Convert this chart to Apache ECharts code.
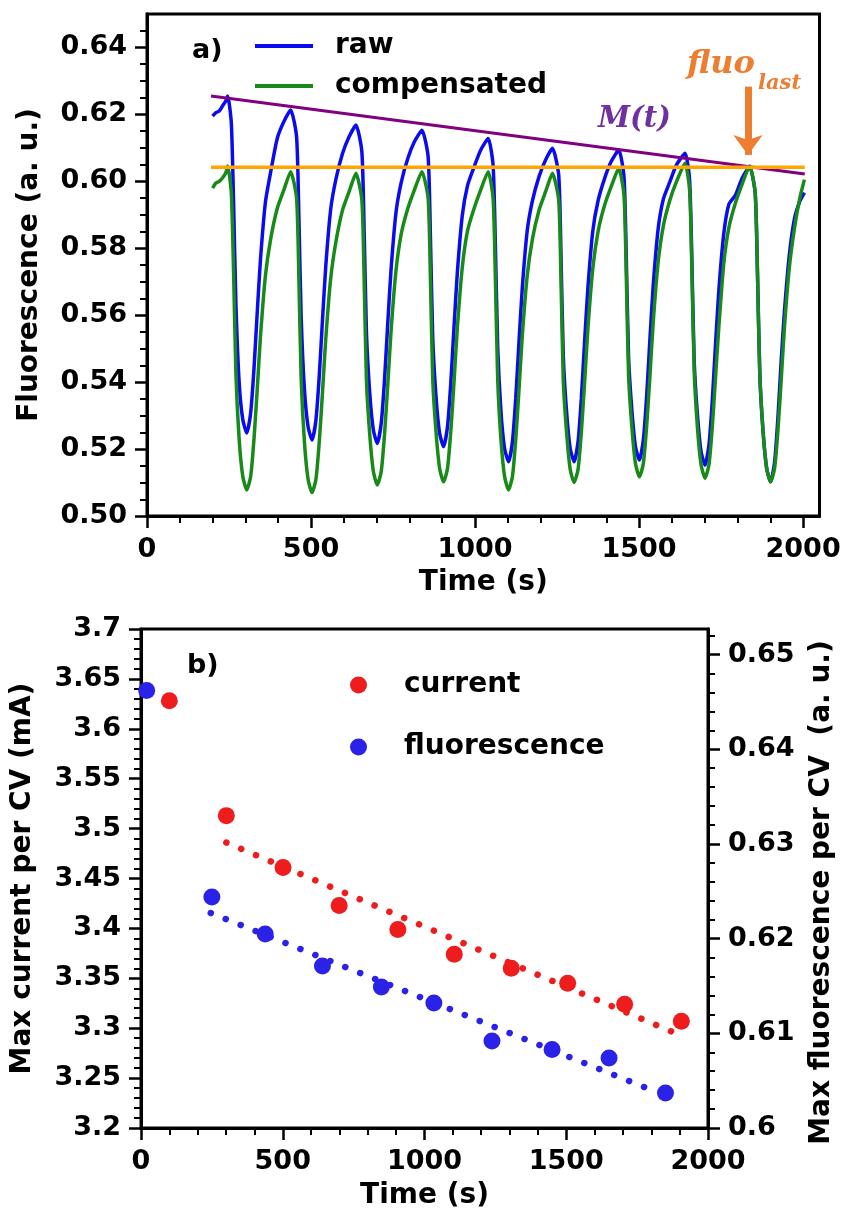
<!DOCTYPE html>
<html>
<head>
<meta charset="utf-8">
<script src="https://cdn.jsdelivr.net/npm/echarts@6/dist/echarts.min.js"></script>
<style>html,body{margin:0;padding:0;background:#fff}#c{width:844px;height:1220px}</style>
</head>
<body>
<div id="c"></div>
<script>
// ---------- panel a) data ----------
const tTop = [200,210,220,230,240,
246,257,264,271,281,292,304,316,326,336,346,361,377,397,417,
438,456,463,470,480,491,503,515,525,535,545,560,576,596,616,
637,655,662,669,679,690,702,714,724,734,744,759,775,795,815,
838,857,864,871,881,892,904,916,926,936,946,961,977,997,1017,
1040,1055,1062,1069,1079,1090,1102,1114,1124,1134,1144,1159,1175,1195,1215,
1236,1255,1262,1269,1279,1290,1302,1314,1324,1334,1344,1359,1375,1395,1415,
1438,1454,1461,1468,1478,1489,1501,1513,1523,1533,1543,1558,1574,1594,1614,
1640,1654,1661,1668,1678,1689,1701,1713,1723,1733,1743,1758,1774,1794,1814,
1837,1854,1861,1868,1878,1889,1901,1913,1923,1933,1943,1958,1974,1990,2004];
const rawVals = [0.6195,0.6205,0.6210,0.6225,0.6240,
0.6255,0.6175,0.5935,0.5635,0.5398,0.5288,0.5248,0.5308,0.5438,0.5608,0.5768,0.5938,0.6028,0.6128,0.6178,
0.6213,0.6133,0.5893,0.5593,0.5377,0.5267,0.5227,0.5287,0.5417,0.5587,0.5747,0.5917,0.6007,0.6083,0.6133,
0.6168,0.6088,0.5848,0.5548,0.5367,0.5257,0.5217,0.5277,0.5407,0.5577,0.5737,0.5907,0.5997,0.6068,0.6118,
0.6153,0.6073,0.5833,0.5533,0.5357,0.5247,0.5207,0.5267,0.5397,0.5567,0.5727,0.5897,0.5987,0.6043,0.6093,
0.6128,0.6048,0.5808,0.5508,0.5312,0.5202,0.5162,0.5222,0.5352,0.5522,0.5682,0.5852,0.5942,0.6014,0.6064,
0.6099,0.6019,0.5779,0.5479,0.5312,0.5202,0.5162,0.5222,0.5352,0.5522,0.5682,0.5852,0.5942,0.6009,0.6059,
0.6094,0.6014,0.5774,0.5474,0.5317,0.5207,0.5167,0.5227,0.5357,0.5527,0.5687,0.5857,0.5947,0.5999,0.6049,
0.6084,0.6004,0.5764,0.5464,0.5302,0.5192,0.5152,0.5212,0.5342,0.5512,0.5672,0.5842,0.5932,0.5959,0.6009,
0.6044,0.5964,0.5724,0.5424,0.5252,0.5142,0.5102,0.5160,0.5290,0.5460,0.5610,0.5780,0.5890,0.5940,0.5966];
const compVals = [0.5980,0.5995,0.6000,0.6010,0.6025,
0.6046,0.5966,0.5726,0.5426,0.5228,0.5118,0.5078,0.5118,0.5228,0.5378,0.5538,0.5718,0.5828,0.5919,0.5974,
0.6029,0.5949,0.5709,0.5409,0.5220,0.5110,0.5070,0.5110,0.5220,0.5370,0.5530,0.5710,0.5820,0.5914,0.5969,
0.6024,0.5944,0.5704,0.5404,0.5243,0.5133,0.5093,0.5133,0.5243,0.5393,0.5553,0.5733,0.5843,0.5919,0.5974,
0.6029,0.5949,0.5709,0.5409,0.5252,0.5142,0.5102,0.5142,0.5252,0.5402,0.5562,0.5742,0.5852,0.5919,0.5974,
0.6029,0.5949,0.5709,0.5409,0.5228,0.5118,0.5078,0.5118,0.5228,0.5378,0.5538,0.5718,0.5828,0.5914,0.5969,
0.6024,0.5944,0.5704,0.5404,0.5250,0.5140,0.5100,0.5140,0.5250,0.5400,0.5560,0.5740,0.5850,0.5929,0.5984,
0.6039,0.5959,0.5719,0.5419,0.5267,0.5157,0.5117,0.5157,0.5267,0.5417,0.5577,0.5757,0.5867,0.5944,0.5999,
0.6054,0.5974,0.5734,0.5434,0.5263,0.5153,0.5113,0.5153,0.5263,0.5413,0.5563,0.5753,0.5863,0.5936,0.5991,
0.6046,0.5966,0.5726,0.5426,0.5252,0.5142,0.5102,0.5142,0.5252,0.5402,0.5562,0.5742,0.5862,0.5950,0.6005];
const mLineT = [195, 2005];
const mLineV = [0.6255, 0.6022];
const fluoLastT = [195, 2005];
const fluoLastV = [0.6042, 0.6042];
const arrowT = [1832, 1832];
const arrowV = [0.6283, 0.6079];
const topXTicks = [0, 500, 1000, 1500, 2000];
const topYTicks = [0.50, 0.52, 0.54, 0.56, 0.58, 0.60, 0.62, 0.64];

// ---------- panel b) data ----------
const curT = [100, 301, 501, 699, 906, 1105, 1306, 1505, 1706, 1906];
const curV = [3.628, 3.513, 3.461, 3.423, 3.399, 3.374, 3.360, 3.345, 3.324, 3.307];
const fluT = [20, 250, 438, 640, 848, 1033, 1238, 1450, 1651, 1850];
const fluV = [0.6462, 0.6244, 0.6205, 0.6171, 0.6149, 0.6132, 0.6092, 0.6083, 0.6074, 0.6037];
const curFitT = [301, 1877];
const curFitV = [3.486, 3.296];
const fluFitT = [246, 1785];
const fluFitV = [0.6227, 0.6042];
const rightYTicks = [0.60, 0.61, 0.62, 0.63, 0.64, 0.65];

// minor tick positions (axis decoration only)
function steps(a, b, s, skip) {
  const out = [];
  for (let i = 0; a + i * s <= b + 1e-9; i++) {
    const v = +(a + i * s).toFixed(6);
    if (!skip.some(m => Math.abs(m - v) < 1e-9)) out.push(v);
  }
  return out;
}
const topXMinor = steps(0, 2000, 100, topXTicks);
const topYMinor = steps(0.50, 0.645, 0.005, topYTicks);
const rightYMinor = steps(0.60, 0.652, 0.002, rightYTicks);

const zip = (a, b) => a.map((x, i) => [x, b[i]]);
const FF = '"DejaVu Sans", Verdana, sans-serif';
const BLUE_RAW = '#0b0bf0', GREEN = '#178a17', PURPLE = '#800080', ORANGE = '#ffa500';
const RED_PT = '#ee1c1c', BLUE_PT = '#2b22e8', ANN_OR = '#ed7d31', ANN_PU = '#7030a0';
const LBL = {fontSize: 27, fontWeight: 'bold', color: '#000', fontFamily: FF, margin: 20};
const NAME = {fontSize: 28, fontWeight: 'bold', color: '#000', fontFamily: FF};
const MAJ = {show: true, length: 12, lineStyle: {color: '#000', width: 2.5}};
const MIN = {show: true, length: 7, lineStyle: {color: '#000', width: 2}};
const fmtPlain = v => String(+v.toFixed(4));

const chart = echarts.init(document.getElementById('c'), null, {renderer: 'canvas'});
chart.setOption({
  animation: false,
  backgroundColor: '#fff',
  grid: [
    {left: 147, right: 24.5, top: 14, height: 502, show: true, borderColor: '#000', borderWidth: 3},
    {left: 141, right: 136, top: 629, height: 499, show: true, borderColor: '#000', borderWidth: 3}
  ],
  xAxis: [
    {gridIndex: 0, type: 'value', position: 'bottom', min: 0, max: 2050, interval: 500,
      axisLine: {onZero: false, lineStyle: {color: '#000', width: 3}},
      axisTick: Object.assign({customValues: topXTicks}, MAJ),
      splitLine: {show: false},
      axisLabel: Object.assign({customValues: topXTicks, formatter: fmtPlain}, LBL),
      name: 'Time (s)', nameLocation: 'middle', nameGap: 53, nameTextStyle: NAME},
    {gridIndex: 1, type: 'value', position: 'bottom', min: 0, max: 2000, interval: 500,
      axisLine: {onZero: false, lineStyle: {color: '#000', width: 3}},
      axisTick: MAJ,
      minorTick: Object.assign({splitNumber: 5}, MIN),
      splitLine: {show: false},
      axisLabel: Object.assign({formatter: fmtPlain}, LBL),
      name: 'Time (s)', nameLocation: 'middle', nameGap: 54, nameTextStyle: NAME},
    // minor ticks of panel a) x axis
    {gridIndex: 0, type: 'value', position: 'bottom', min: 0, max: 2050,
      axisLine: {show: false, onZero: false},
      axisTick: Object.assign({customValues: topXMinor}, MIN),
      axisLabel: {show: false}, splitLine: {show: false}}
  ],
  yAxis: [
    {gridIndex: 0, type: 'value', position: 'left', min: 0.50, max: 0.65, interval: 0.02,
      axisLine: {show: true, onZero: false, lineStyle: {color: '#000', width: 3}},
      axisTick: Object.assign({customValues: topYTicks}, MAJ),
      splitLine: {show: false},
      axisLabel: Object.assign({customValues: topYTicks, formatter: v => v.toFixed(2)}, LBL),
      name: 'Fluorescence (a. u.)', nameLocation: 'middle', nameRotate: 90, nameGap: 103, nameTextStyle: NAME},
    {gridIndex: 1, type: 'value', position: 'left', min: 3.2, max: 3.7, interval: 0.05,
      axisLine: {show: true, onZero: false, lineStyle: {color: '#000', width: 3}},
      axisTick: MAJ,
      minorTick: Object.assign({splitNumber: 5}, MIN),
      splitLine: {show: false},
      axisLabel: Object.assign({formatter: fmtPlain}, LBL),
      name: 'Max current per CV (mA)', nameLocation: 'middle', nameRotate: 90, nameGap: 104, nameTextStyle: NAME},
    {gridIndex: 1, type: 'value', position: 'right', min: 0.6, max: 0.6527, interval: 0.01,
      axisLine: {show: true, onZero: false, lineStyle: {color: '#000', width: 3}},
      axisTick: Object.assign({customValues: rightYTicks}, MAJ),
      splitLine: {show: false},
      axisLabel: Object.assign({customValues: rightYTicks, formatter: fmtPlain}, LBL),
      name: 'Max fluorescence per CV  (a. u.)', nameLocation: 'middle', nameRotate: 90, nameGap: 100,
      nameTextStyle: Object.assign({padding: [0, 28, 0, 0]}, NAME)},
    // minor ticks of panel a) y axis
    {gridIndex: 0, type: 'value', position: 'left', min: 0.50, max: 0.65,
      axisLine: {show: false, onZero: false},
      axisTick: Object.assign({customValues: topYMinor}, MIN),
      axisLabel: {show: false}, splitLine: {show: false}},
    // minor ticks of panel b) right axis
    {gridIndex: 1, type: 'value', position: 'right', min: 0.6, max: 0.6527,
      axisLine: {show: false, onZero: false},
      axisTick: Object.assign({customValues: rightYMinor}, MIN),
      axisLabel: {show: false}, splitLine: {show: false}}
  ],
  legend: [
    {data: ['raw', 'compensated'], left: 250, top: 27, orient: 'vertical', itemGap: 12,
      itemWidth: 58, itemHeight: 4, icon: 'rect',
      textStyle: {fontSize: 28, fontWeight: 'bold', color: '#000', fontFamily: FF, lineHeight: 28, padding: [0, 0, 0, 17]}},
    {data: ['current', 'fluorescence'], left: 345, top: 666, orient: 'vertical', itemGap: 34,
      itemWidth: 17, itemHeight: 17, icon: 'circle',
      textStyle: {fontSize: 28, fontWeight: 'bold', color: '#000', fontFamily: FF, lineHeight: 28, padding: [0, 0, 0, 32]}}
  ],
  series: [
    {name: 'raw', type: 'line', xAxisIndex: 0, yAxisIndex: 0, data: zip(tTop, rawVals),
      showSymbol: false, symbol: 'none', smooth: 0.2, color: BLUE_RAW, lineStyle: {color: BLUE_RAW, width: 3.5}, z: 2},
    {name: 'compensated', type: 'line', xAxisIndex: 0, yAxisIndex: 0, data: zip(tTop, compVals),
      showSymbol: false, symbol: 'none', smooth: 0.2, color: GREEN, lineStyle: {color: GREEN, width: 3.5}, z: 3},
    {name: 'M(t)', type: 'line', xAxisIndex: 0, yAxisIndex: 0, data: zip(mLineT, mLineV),
      symbol: 'none', lineStyle: {color: PURPLE, width: 3}, z: 4},
    {name: 'fluo_last', type: 'line', xAxisIndex: 0, yAxisIndex: 0, data: zip(fluoLastT, fluoLastV),
      symbol: 'none', lineStyle: {color: ORANGE, width: 3.5}, z: 5,
      markLine: {silent: true, symbol: ['none', 'arrow'], symbolSize: [22, 20], precision: 4,
        lineStyle: {color: ANN_OR, width: 7, type: 'solid'}, label: {show: false},
        data: [[{coord: [arrowT[0], arrowV[0]]}, {coord: [arrowT[1], arrowV[1]]}]]}},
    {name: 'current fit', type: 'line', xAxisIndex: 1, yAxisIndex: 1, data: zip(curFitT, curFitV),
      symbol: 'none', lineStyle: {color: RED_PT, width: 6.5, type: [0.1, 16], cap: 'round'}, z: 2},
    {name: 'fluorescence fit', type: 'line', xAxisIndex: 1, yAxisIndex: 2, data: zip(fluFitT, fluFitV),
      symbol: 'none', lineStyle: {color: BLUE_PT, width: 6.5, type: [0.1, 16], cap: 'round'}, z: 2},
    {name: 'current', type: 'scatter', xAxisIndex: 1, yAxisIndex: 1, data: zip(curT, curV),
      symbol: 'circle', symbolSize: 17, itemStyle: {color: RED_PT, opacity: 1}, z: 3},
    {name: 'fluorescence', type: 'scatter', xAxisIndex: 1, yAxisIndex: 2, data: zip(fluT, fluV),
      symbol: 'circle', symbolSize: 17, itemStyle: {color: BLUE_PT, opacity: 1}, z: 3}
  ],
  graphic: [
    {type: 'text', left: 192, top: 37, z: 10, style: {text: 'a)', font: 'bold 27px ' + FF, fill: '#000'}},
    {type: 'text', left: 187, top: 652, z: 10, style: {text: 'b)', font: 'bold 27px ' + FF, fill: '#000'}},
    {type: 'text', left: 598, top: 105, z: 10, style: {text: 'M(t)', font: 'italic bold 29px "DejaVu Serif", serif', fill: ANN_PU}},
    {type: 'text', left: 687, top: 49, z: 10, style: {text: 'fluo', font: 'italic bold 32px "DejaVu Serif", serif', fill: ANN_OR}},
    {type: 'text', left: 758, top: 73, z: 10, style: {text: 'last', font: 'italic bold 21px "DejaVu Serif", serif', fill: ANN_OR}}
  ]
});
</script>
</body>
</html>
